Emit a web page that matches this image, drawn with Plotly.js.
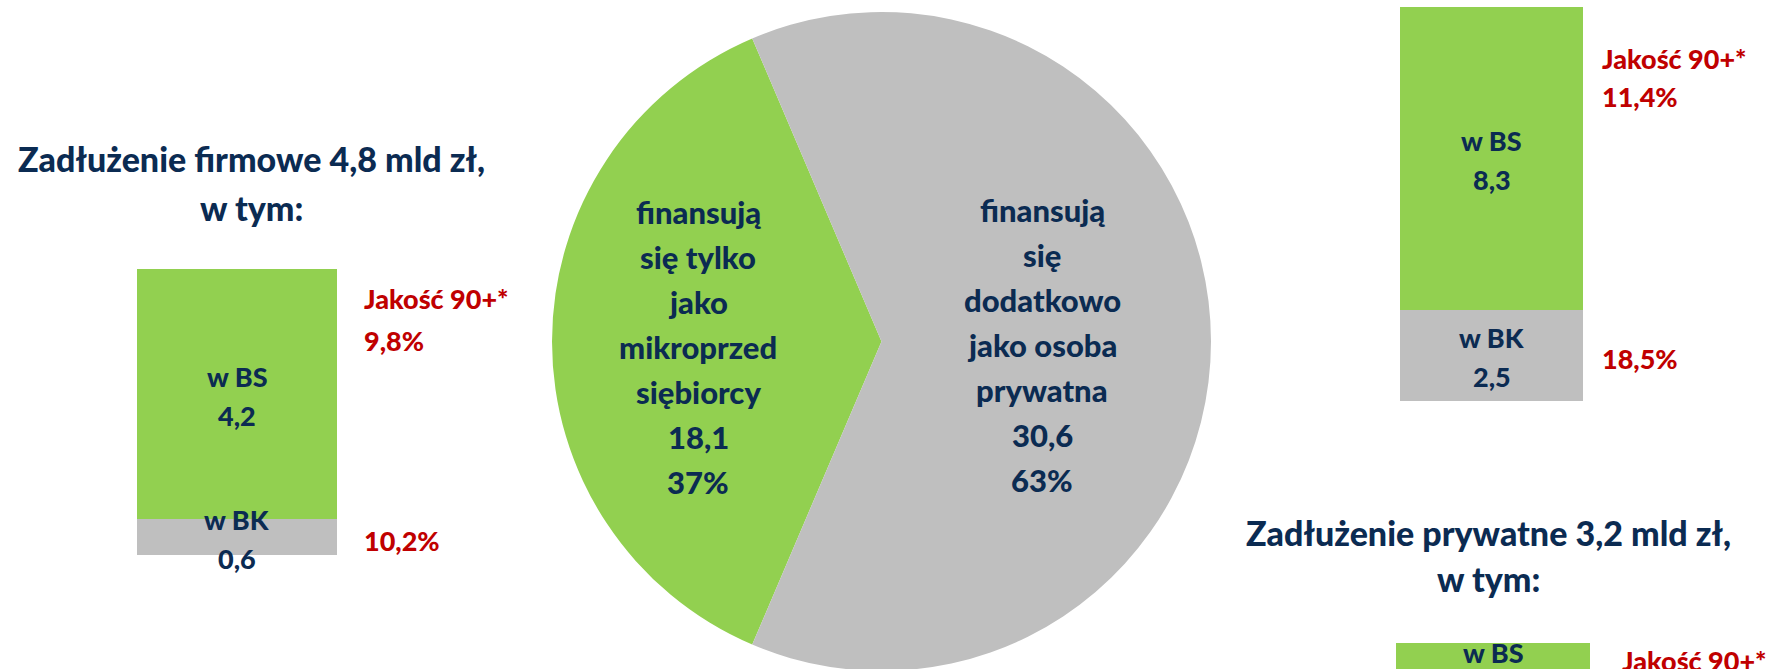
<!DOCTYPE html>
<html>
<head>
<meta charset="utf-8">
<script src="https://cdn.plot.ly/plotly-3.0.1.min.js"></script>
<style>html,body{margin:0;padding:0;overflow:hidden;background:#ffffff}</style>
</head>
<body>
<div id="chart"></div>
<script>
// ---------------- data ----------------
const pieCategories = ["finansują się tylko jako mikroprzedsiębiorcy", "finansują się dodatkowo jako osoba prywatna"];
const pieValues = [18.1, 30.6];
const pieLabelLines = [
  ["finansują", "się tylko", "jako", "mikroprzed", "siębiorcy"],
  ["finansują", "się", "dodatkowo", "jako osoba", "prywatna"]
];

const segmentNames = ["w BK", "w BS"];          // bottom (grey), top (green)
const firmValues = [0.6, 4.2];                 // Zadłużenie firmowe
const firmQuality = ["10,2%", "9,8%"];
const firmTitle = ["Zadłużenie firmowe 4,8 mld zł,", "w tym:"];

const upperValues = [2.5, 8.3];                // bar in the upper right corner
const upperQuality = ["18,5%", "11,4%"];

const privValues = [1.7, 1.5];                 // Zadłużenie prywatne (cut off at the bottom of the slide; estimated)
const privTitle = ["Zadłużenie prywatne 3,2 mld zł,", "w tym:"];

const qualityHeader = "Jakość 90+*";

// ---------------- style ----------------
const W = 1775, H = 680;
const GREEN = "#92D050", GREY = "#BFBFBF", NAVY = "#0B2B52", RED = "#C00000";
const FONT = "Lato, 'Open Sans', sans-serif";
const WEIGHT = 900;
const segColors = [GREY, GREEN];

const px = x => x / W;
const py = y => 1 - y / H;
const fmt = v => v.toFixed(1).replace(".", ",");

const traces = [];
const annotations = [];

function addLine(text, x, y, o) {
  annotations.push(Object.assign({
    text: text, x: x, y: y, showarrow: false,
    xref: "paper", yref: "paper", xanchor: "center", yanchor: "middle",
    font: {family: FONT, size: 28, color: NAVY, weight: WEIGHT}
  }, o || {}));
}

// ---------------- pie ----------------
const pieTotal = pieValues.reduce((a, b) => a + b, 0);
const greenShare = pieValues[0] / pieTotal;
traces.push({
  type: "pie",
  labels: pieCategories,
  values: pieValues,
  sort: false,
  direction: "clockwise",
  rotation: 270 - 180 * greenShare,
  marker: {colors: [GREEN, GREY], line: {width: 0}},
  textinfo: "none",
  hoverinfo: "skip",
  showlegend: false,
  domain: {x: [px(552), px(1211)], y: [py(671), py(12)]}
});

const pieTextX = [698, 1042];
const pieTextY0 = [212, 210];
pieValues.forEach((v, i) => {
  const lines = pieLabelLines[i].concat([fmt(v), Math.round(v / pieTotal * 100) + "%"]);
  lines.forEach((t, j) => {
    addLine(t, px(pieTextX[i]), py(pieTextY0[i] + j * 45), {font: {family: FONT, size: 31, color: NAVY, weight: WEIGHT}});
  });
});

// ---------------- stacked bars ----------------
const bars = [
  {vals: firmValues, q: firmQuality, ax: "", x: [137, 337], y: [555, 269], range: null, qX: 362, qY: [298, 340]},
  {vals: upperValues, q: upperQuality, ax: "2", x: [1400, 1583], y: [401, 7], range: null, qX: 1600, qY: [58, 97]},
  {vals: privValues, q: null, ax: "3", x: [1396, 1590], y: [H, 643], range: "cut", qX: 1620, qY: [660]}
];

const layoutAxes = {};
bars.forEach((b, k) => {
  const xa = "x" + b.ax, ya = "y" + b.ax;
  const total = b.vals.reduce((a, c) => a + c, 0);
  let yr = [0, total];
  if (b.range === "cut") {
    const ppu = 36.5;                       // same pixel-per-unit scale as the upper right bar
    yr = [total - (H - 643) / ppu, total];
  }
  b.vals.forEach((v, i) => {
    traces.push({
      type: "bar", x: [0], y: [v], width: [1],
      xaxis: xa, yaxis: ya,
      marker: {color: segColors[i], line: {width: 0}},
      hoverinfo: "skip", showlegend: false
    });
    // segment label: name + value, centred in the segment
    const centre = b.vals.slice(0, i).reduce((a, c) => a + c, 0) + v / 2;
    [segmentNames[i], fmt(v)].forEach((t, j) => {
      addLine(t, 0, centre, {
        xref: xa, yref: ya, yshift: -2 + (0.5 - j) * 39,
        font: {family: FONT, size: 27, color: NAVY, weight: WEIGHT}
      });
    });
  });
  // quality (red) labels
  const redFont = {family: FONT, size: 27, color: RED, weight: WEIGHT};
  addLine(qualityHeader, px(b.qX), py(b.qY[0]), {xanchor: "left", font: redFont});
  if (b.q) {
    addLine(b.q[1], px(b.qX), py(b.qY[1]), {xanchor: "left", font: redFont});
    addLine(b.q[0], px(b.qX), b.vals[0] / 2, {xanchor: "left", yref: ya, yshift: -3, font: redFont});
  }
  const axBase = {visible: false, fixedrange: true, showgrid: false, zeroline: false};
  layoutAxes["xaxis" + b.ax] = Object.assign({}, axBase, {domain: [px(b.x[0]), px(b.x[1])], range: [-0.5, 0.5], anchor: ya});
  layoutAxes["yaxis" + b.ax] = Object.assign({}, axBase, {domain: [py(b.y[0]), py(b.y[1])], range: yr, anchor: xa});
});

// ---------------- titles ----------------
const titleFont = {family: FONT, size: 34, color: NAVY, weight: WEIGHT};
firmTitle.forEach((t, j) => addLine(t, px(251), py(158 + j * 49), {font: titleFont}));
privTitle.forEach((t, j) => addLine(t, px(1488), py(532 + j * 46), {font: titleFont}));

const layout = Object.assign({
  width: W, height: H,
  margin: {l: 0, r: 0, t: 0, b: 0},
  paper_bgcolor: "#ffffff", plot_bgcolor: "rgba(0,0,0,0)",
  barmode: "stack", bargap: 0,
  showlegend: false,
  annotations: annotations
}, layoutAxes);

Plotly.newPlot("chart", traces, layout, {displayModeBar: false, staticPlot: true});
</script>
</body>
</html>
